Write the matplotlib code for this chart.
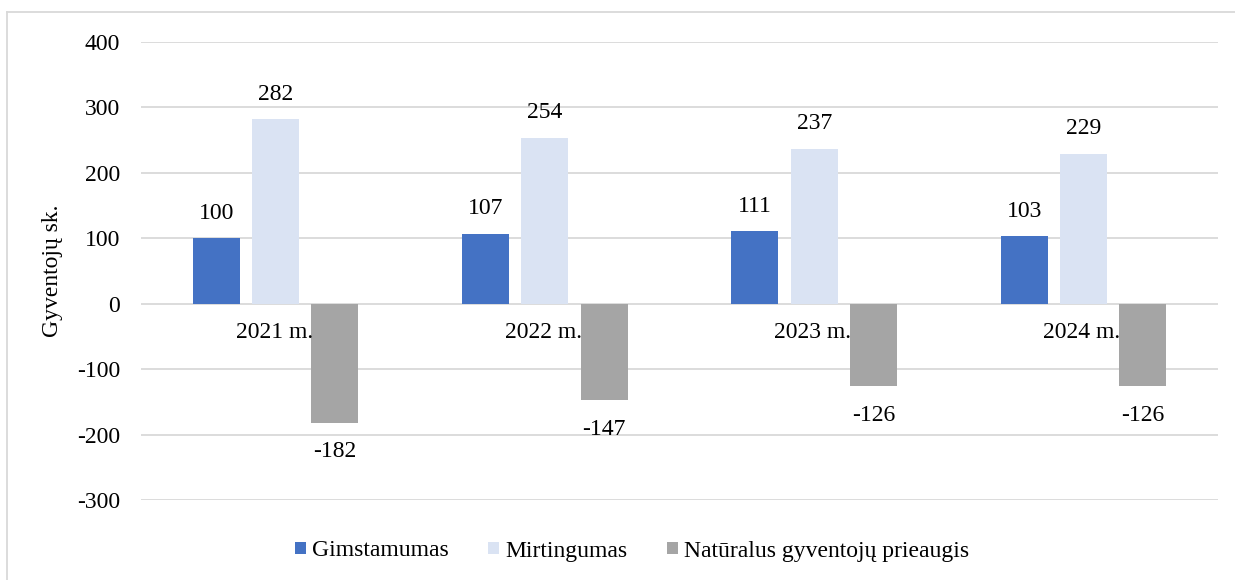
import numpy as np
import matplotlib.pyplot as plt
from matplotlib.lines import Line2D
from matplotlib.patches import Patch

plt.rcParams['font.family'] = ['Liberation Serif', 'DejaVu Serif']

# duomenys
metai = ['2021 m.', '2022 m.', '2023 m.', '2024 m.']
gimstamumas = [100, 107, 111, 103]
mirtingumas = [282, 254, 237, 229]
prieaugis = [-182, -147, -126, -126]
serijos = ['Gimstamumas', 'Mirtingumas', 'Natūralus gyventojų prieaugis']
spalvos = ['#4472C4', '#DAE3F3', '#A5A5A5']
y_ticks = [-300, -200, -100, 0, 100, 200, 300, 400]

fs = 17

fig = plt.figure(figsize=(12.35, 5.8), dpi=100)
ax = fig.add_axes([141/1235, 1-500/580, (1218-141)/1235, 458/580])

# remelis (matosi tik kaire ir virsus)
fig.add_artist(Line2D([7/1235, 7/1235], [0, 1-12/580], transform=fig.transFigure,
                      color='#D9D9D9', lw=1.3))
fig.add_artist(Line2D([7/1235, 1], [1-12/580, 1-12/580], transform=fig.transFigure,
                      color='#D9D9D9', lw=1.3))

x = np.arange(len(metai))
w = 0.175
poslinkis = 0.22
for i, (vals, name, col) in enumerate(zip([gimstamumas, mirtingumas, prieaugis], serijos, spalvos)):
    xs = x + (i - 1) * poslinkis
    ax.bar(xs, vals, width=w, color=col, label=name, zorder=3)
    for xi, v in zip(xs, vals):
        dy = 18 if v >= 0 else -21
        ax.annotate(str(v), (xi, v), xytext=(0, dy), textcoords='offset points',
                    ha='center', va='center', fontsize=fs)

ax.set_xlim(-0.5, len(metai) - 0.5)
ax.set_ylim(-300, 400)
ax.set_yticks(y_ticks)
ax.set_yticklabels([str(t) for t in y_ticks])
ax.tick_params(axis='y', length=0, labelsize=fs, pad=15)
ax.set_xticks([])
ax.yaxis.grid(True, color='#D9D9D9', lw=1.3, zorder=0)
for s in ax.spines.values():
    s.set_visible(False)

# kategoriju pavadinimai prie nulio linijos
for xi, m in zip(x, metai):
    ax.annotate(m, (xi, 0), xytext=(-1, -20.5), textcoords='offset points',
                ha='center', va='center', fontsize=fs, zorder=4)

ax.set_ylabel('Gyventojų sk.', fontsize=fs)
ax.yaxis.set_label_coords((63-141)/(1218-141), 0.5)

handles = [Patch(facecolor=c, label=n) for c, n in zip(spalvos, serijos)]
fig.legend(handles=handles, loc='center', bbox_to_anchor=(632/1235, 1-551/580), ncol=3,
           frameon=False, fontsize=fs, handlelength=0.45, handleheight=0.45,
           handletextpad=0.25, columnspacing=1.7)

fig.savefig('out.png', dpi=100)
